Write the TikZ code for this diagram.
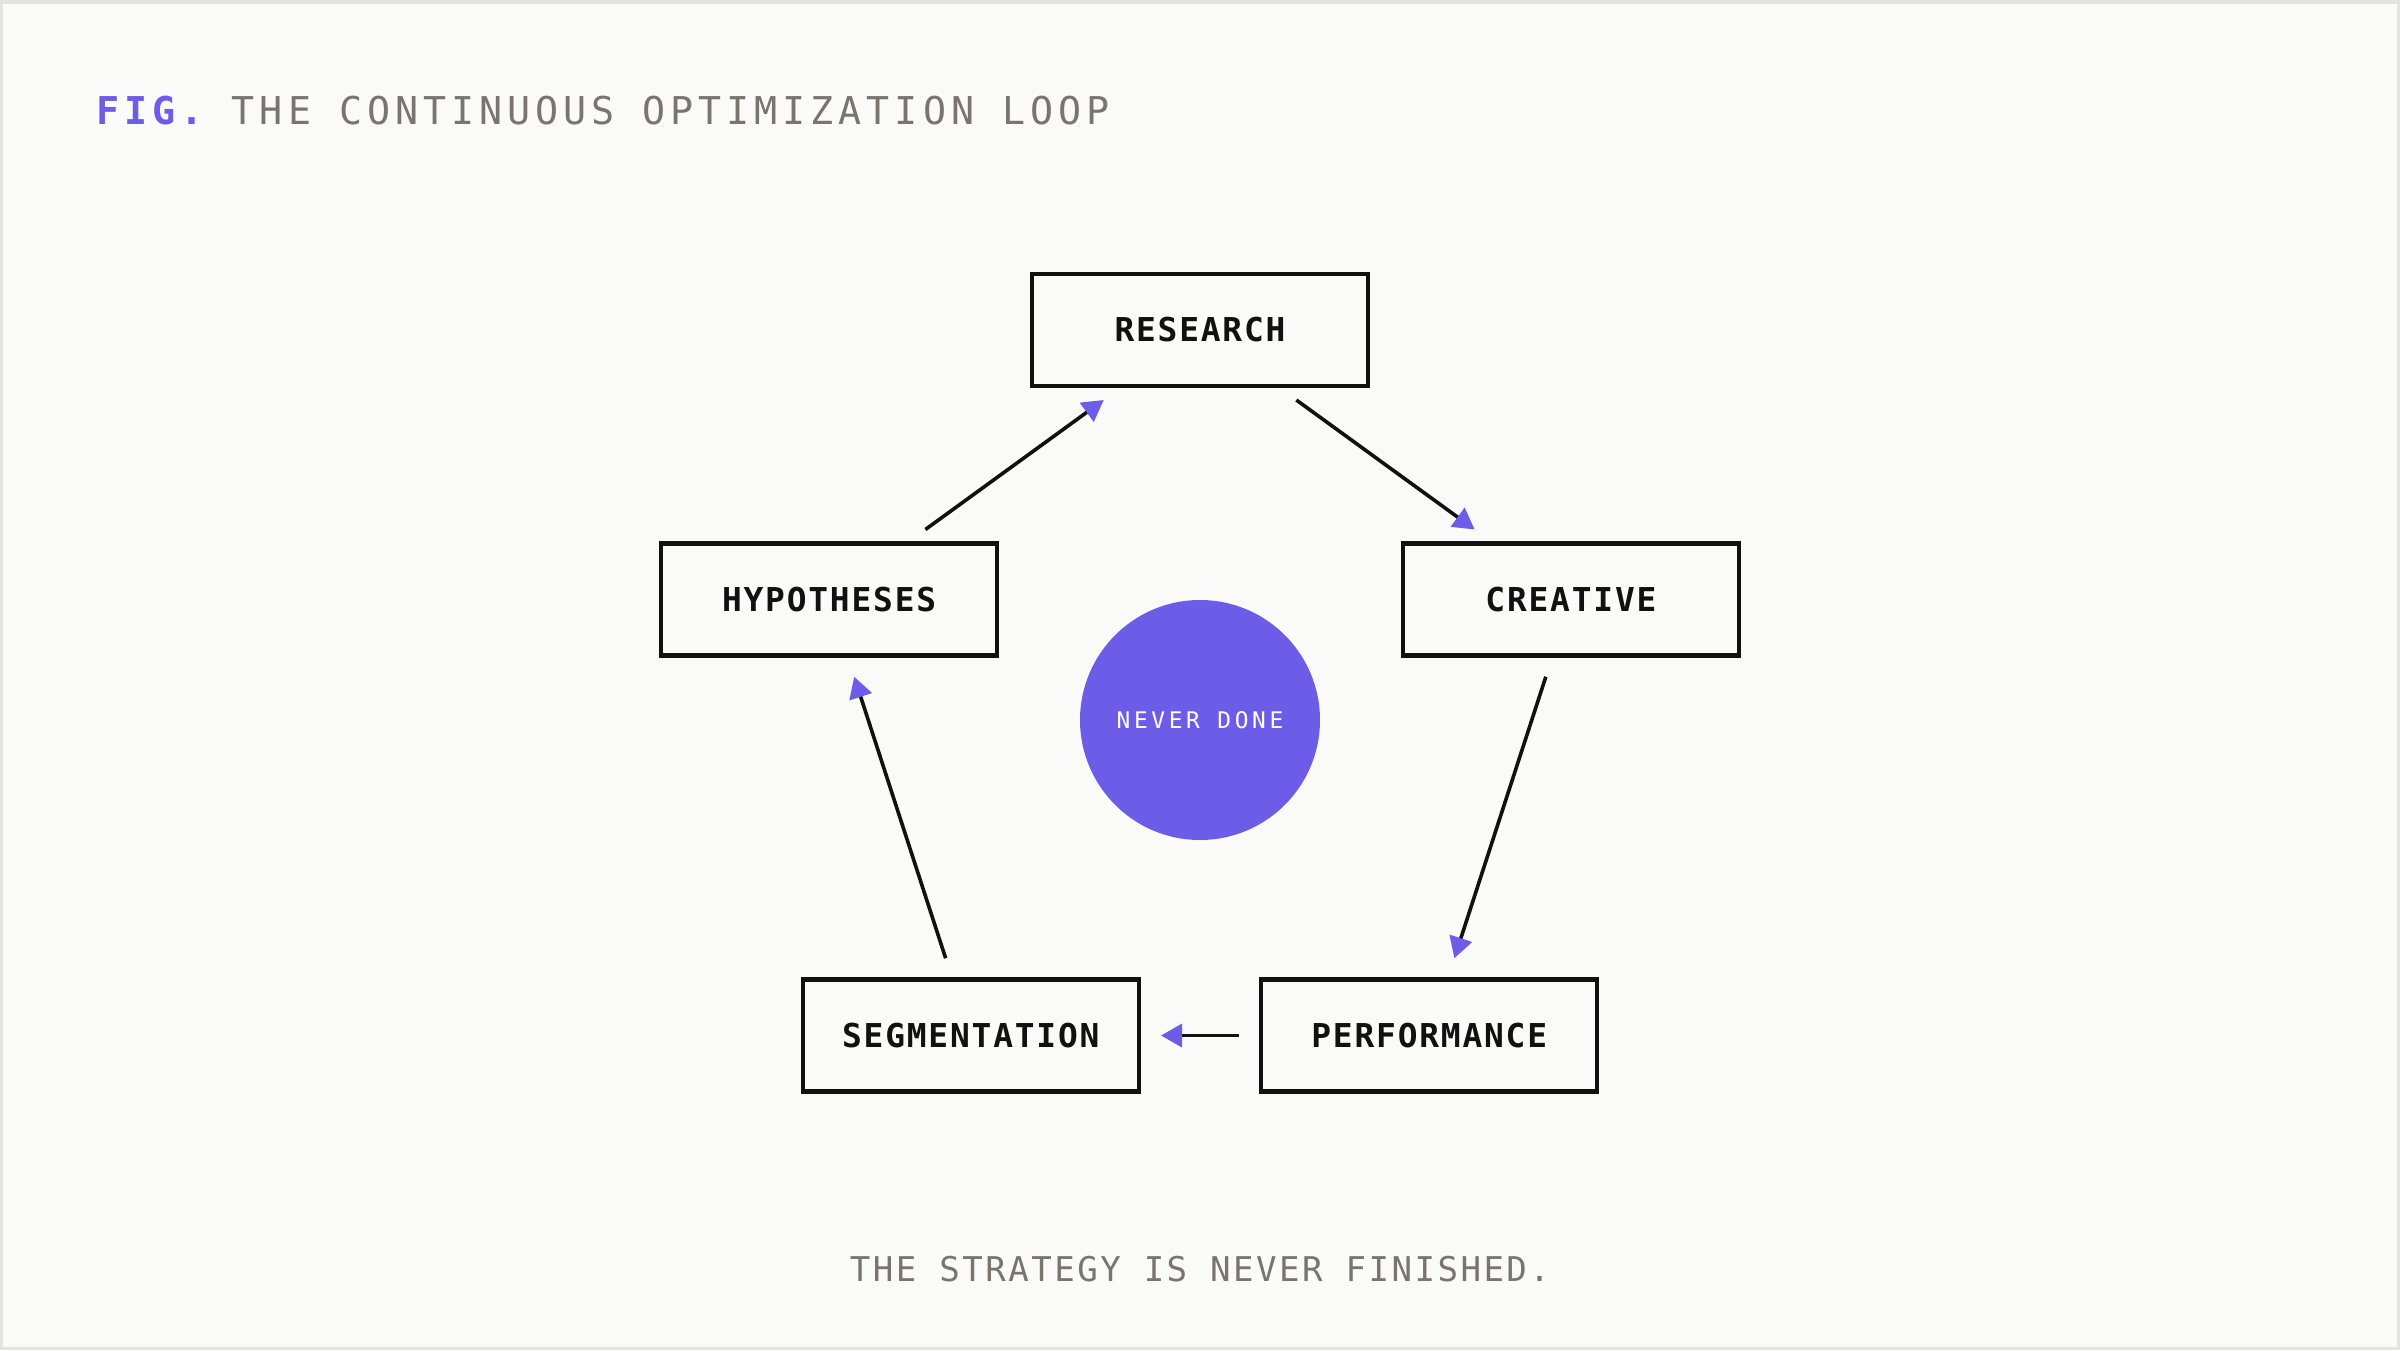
\documentclass[tikz,border=0pt]{standalone}
\usepackage{fontspec}
\usepackage{tikz}
\usetikzlibrary{arrows.meta, positioning}
\newfontfamily\titlefont[LetterSpace=13]{DejaVu Sans Mono}
\newfontfamily\boxfont[LetterSpace=5.5]{DejaVu Sans Mono}
\newfontfamily\notefont[LetterSpace=7.2]{DejaVu Sans Mono}
\newfontfamily\corefont[LetterSpace=16]{DejaVu Sans Mono}
\definecolor{paper}{RGB}{250,250,248}
\definecolor{frame}{RGB}{228,227,224}
\definecolor{fig}{RGB}{108,92,231}
\definecolor{mute}{RGB}{122,115,110}
\definecolor{ink}{RGB}{17,17,17}

\begin{document}
\begin{tikzpicture}[
    loopbox/.style={draw=ink,line width=0.045cm,fill=paper,
      minimum width=3.36cm,minimum height=1.12cm,inner sep=0pt,
      font=\boxfont\bfseries\fontsize{9.35pt}{11pt}\selectfont,text=ink},
    flow/.style={draw=ink,line width=0.036cm,shorten <=0.2cm,shorten >=0.2cm,
      -{Triangle[length=0.21cm,width=0.23cm,color=fig]}},
  ]

  % page
  \useasboundingbox (-12,7.2) rectangle (12,-6.3);
  \draw[fill=paper,draw=frame,line width=0.035cm]
    (-11.9825,7.1825) rectangle (11.9825,-6.2825);

  % title
  \node[anchor=base west,inner sep=0pt,text=mute,
    font=\titlefont\fontsize{10.9pt}{13pt}\selectfont] (title) at (-11.04,5.96)
    {\textcolor{fig}{\bfseries FIG.} THE CONTINUOUS OPTIMIZATION LOOP};

  % centre
  \node[circle,fill=fig,minimum size=2.4cm,inner sep=0pt,text=white,
    font=\corefont\fontsize{6.5pt}{8pt}\selectfont] (core) at (0,0) {NEVER DONE};

  % loop
  \node[loopbox] (research) at (90:3.9)  {RESEARCH};
  \node[loopbox] (creative) at (18:3.9)  {CREATIVE};
  \node[loopbox] (perf)     at (-54:3.9) {PERFORMANCE};
  \node[loopbox] (seg)      at (234:3.9) {SEGMENTATION};
  \node[loopbox] (hypo)     at (162:3.9) {HYPOTHESES};

  \draw[flow] (research) -- (creative);
  \draw[flow] (creative) -- (perf);
  \draw[flow] (perf) -- (seg);
  \draw[flow] (seg) -- (hypo);
  \draw[flow] (hypo) -- (research);

  % note
  \node[anchor=base,inner sep=0pt,text=mute,
    font=\notefont\fontsize{9.7pt}{12pt}\selectfont] (note) at (0,-5.61)
    {THE STRATEGY IS NEVER FINISHED.};
\end{tikzpicture}
\end{document}
